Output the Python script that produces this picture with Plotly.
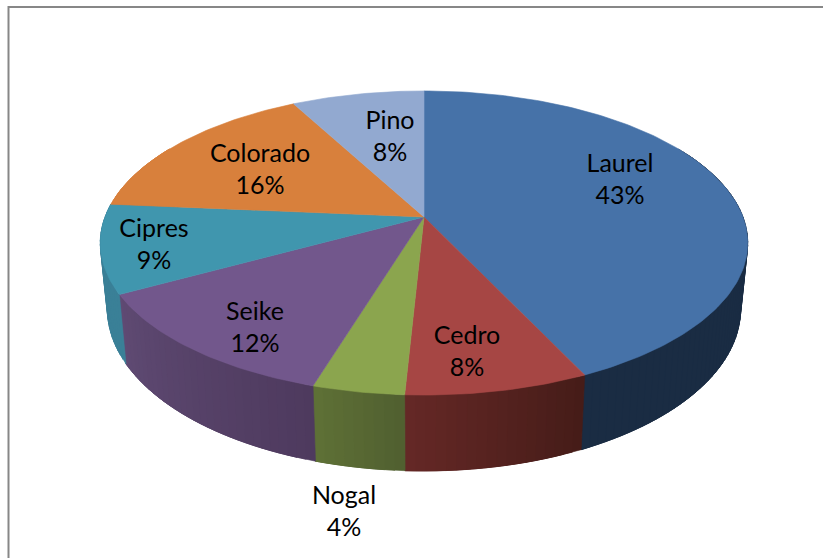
import math
import plotly.graph_objects as go

names = ["Laurel", "Cedro", "Nogal", "Seike", "Cipres", "Colorado", "Pino"]
values = [43, 7.8, 3.9, 12.3, 9.4, 15.8, 7.8]
top_colors = ["#4672A8", "#A64644", "#8BA54E", "#72578C", "#4096AE", "#D8803C", "#92A9D0"]
wall_left = ["#1A2C43", "#652826", "#5F7136", "#5F4A73", "#3A8097", "#D8803C", "#92A9D0"]
wall_right = ["#1A2C43", "#451C18", "#505F30", "#4E3A5E", "#3A8097", "#D8803C", "#92A9D0"]
label_xy = [(620, 181.5), (467, 353.5), (344, 513.5), (255, 329.5), (154, 246.5), (260, 171.5), (390, 138.5)]

CX, CY, R, H, K = 424, 217, 319, 147.6, 0.171
BOT_CY, BOT_H, BOT_S = 281.6, 157, 0.978


def top(deg):
    t = math.radians(deg)
    u, v = math.sin(t), math.cos(t)
    w = 1 + K * v
    return CX + R * u / w, CY - H * v / w


def bottom(deg):
    t = math.radians(deg)
    u, v = math.sin(t), math.cos(t)
    w = 1 + K * v
    return CX + R * BOT_S * u / w, BOT_CY - BOT_H * v / w


def mix(a, b, f):
    ca = [int(a[i:i + 2], 16) for i in (1, 3, 5)]
    cb = [int(b[i:i + 2], 16) for i in (1, 3, 5)]
    return "rgb(%d,%d,%d)" % tuple(round(x + (y - x) * f) for x, y in zip(ca, cb))


def poly(pts, color, width=0.6):
    xs = [p[0] for p in pts] + [pts[0][0]]
    ys = [p[1] for p in pts] + [pts[0][1]]
    return go.Scatter(x=xs, y=ys, mode="lines", fill="toself", fillcolor=color,
                      line=dict(color=color, width=width), hoverinfo="skip", showlegend=False)


def arc(a0, a1, fn):
    n = max(2, int((a1 - a0) / 1.0))
    return [fn(a0 + (a1 - a0) * j / n) for j in range(n + 1)]


fig = go.Figure()
total = sum(values)
edges = [0]
for val in values:
    edges.append(edges[-1] + val / total * 360)

# side walls: short overlapping strips, so the outer silhouette stays straight and the
# shading has no seams; the back of the rim is hidden by the top surface
STEP = 1.5
for i, val in enumerate(values):
    a0, a1 = max(edges[i], 60), min(edges[i + 1], 300)
    if a1 <= a0:
        continue
    n = max(2, int((a1 - a0) / STEP))
    for j in range(n):
        s0 = a0 + (a1 - a0) * j / n
        s1 = min(a1, s0 + 3 * (a1 - a0) / n)
        color = mix(wall_right[i], wall_left[i], (j + 0.5) / n)
        fig.add_trace(poly([top(s0), top(s1), bottom(s1), bottom(s0)], color))

# top surface
for i, val in enumerate(values):
    pts = [(CX, CY)] + arc(edges[i], edges[i + 1], top)
    fig.add_trace(poly(pts, top_colors[i]))

labels = [f"{nm}<br>{round(val / total * 100)}%" for nm, val in zip(names, values)]
fig.add_trace(go.Scatter(x=[p[0] for p in label_xy], y=[p[1] for p in label_xy], mode="text",
                         text=labels, textposition="middle center",
                         textfont=dict(family="Lato", size=25, color="#000000"),
                         hoverinfo="skip", showlegend=False))

axis = dict(visible=False, fixedrange=True)
fig.update_layout(
    width=823, height=558, margin=dict(l=0, r=0, t=0, b=0, pad=0),
    paper_bgcolor="#FFFFFF", plot_bgcolor="#FFFFFF", showlegend=False,
    xaxis=dict(range=[0, 823], **axis),
    yaxis=dict(range=[558, 0], **axis),
    shapes=[dict(type="rect", xref="x", yref="y", x0=8.5, y0=7, x1=900, y1=700,
                 line=dict(color="#878787", width=2), fillcolor="rgba(0,0,0,0)", layer="below")],
)
fig.write_html("out.html", config=dict(displayModeBar=False),
               post_script="document.body.style.margin='0';document.documentElement.style.overflow='hidden';")
